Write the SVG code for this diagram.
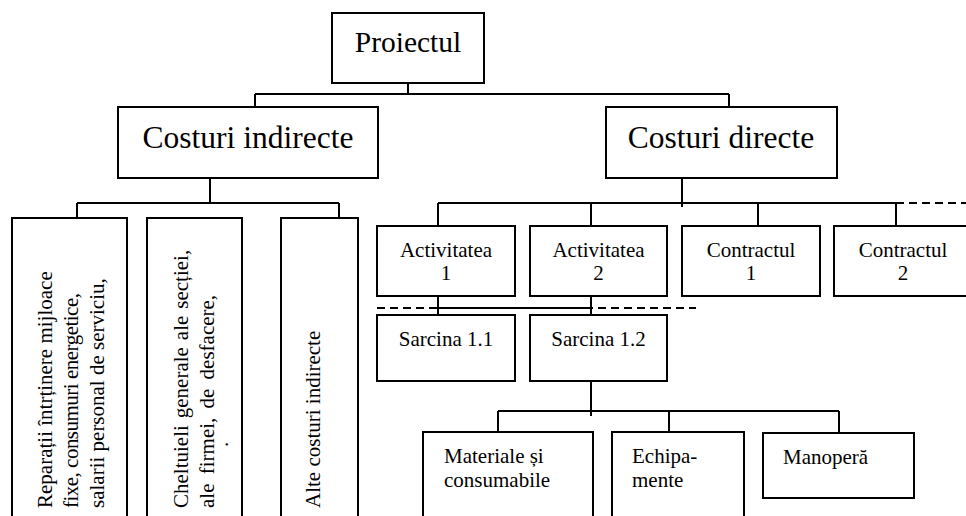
<svg xmlns="http://www.w3.org/2000/svg" width="966" height="516" viewBox="0 0 966 516" font-family="'Liberation Serif', 'Times New Roman', 'DejaVu Serif', serif">
<style>
.box{fill:#fff;stroke:#000;stroke-width:2}
.ln{stroke:#000;stroke-width:2;fill:none}
.dash{stroke:#000;stroke-width:2;fill:none;stroke-dasharray:8 5}
text{font-family:'Liberation Serif','Times New Roman','DejaVu Serif',serif;fill:#000}
.big{text-anchor:middle}
.mid{font-size:21px;text-anchor:middle}
.sm{font-size:21px}
</style>
<rect width="966" height="516" fill="#fff"/>
<g id="connectors">
<path class="ln" d="M408 76V94M255 94H729M255 94V112M729 94V112"/>
<path class="ln" d="M210 170V203M77 203H339M77 203V221M339 203V221"/>
<path class="ln" d="M682 170V207M438 203H896M438 203V226M591 203V226M758 203V226M896 203V226"/>
<path class="dash" d="M896 203H966"/>
<path class="dash" d="M377 308H696"/>
<path class="ln" d="M438 296V315M591 296V315M438 308H591"/>
<path class="ln" d="M591 372V416M498 411H839M498 411V432M669 411V432M839 411V432"/>
</g>
<g id="proiectul"><rect class="box" x="332" y="13" width="152" height="70"/><text class="big" x="408" y="52" font-size="29.5">Proiectul</text></g>
<g id="costuri-indirecte"><rect class="box" x="118" y="107" width="260" height="71"/><text class="big" x="248" y="148" font-size="31.5">Costuri indirecte</text></g>
<g id="costuri-directe"><rect class="box" x="606" y="107" width="231" height="71"/><text class="big" x="721" y="148" font-size="31.5">Costuri directe</text></g>
<g id="ind1"><rect class="box" x="12" y="218" width="115" height="320"/>
<text class="sm" transform="translate(52,508) rotate(-90)">Reparații întrținere mijloace</text>
<text class="sm" transform="translate(78,508) rotate(-90)" textLength="215" lengthAdjust="spacing">fixe, consumuri energetice,</text>
<text class="sm" transform="translate(104,508) rotate(-90)">salarii personal de serviciu,</text></g>
<g id="ind2"><rect class="box" x="147" y="218" width="95" height="320"/>
<text class="sm" transform="translate(188,508) rotate(-90)" word-spacing="1.7">Cheltuieli generale ale secției,</text>
<text class="sm" transform="translate(214,508) rotate(-90)" word-spacing="4">ale firmei, de desfacere,</text>
<text class="sm" transform="translate(228,447) rotate(-90)">.</text></g>
<g id="ind3"><rect class="box" x="281" y="218" width="77" height="320"/>
<text class="sm" transform="translate(320,508) rotate(-90)">Alte costuri indirecte</text></g>
<g id="act1"><rect class="box" x="377" y="226" width="138" height="70"/><text class="mid" x="446" y="257">Activitatea</text><text class="mid" x="446" y="280">1</text></g>
<g id="act2"><rect class="box" x="530" y="226" width="137" height="70"/><text class="mid" x="598.5" y="257">Activitatea</text><text class="mid" x="598.5" y="280">2</text></g>
<g id="contr1"><rect class="box" x="682" y="226" width="138" height="70"/><text class="mid" x="751" y="257">Contractul</text><text class="mid" x="751" y="280">1</text></g>
<g id="contr2"><rect class="box" x="834" y="226" width="138" height="70"/><text class="mid" x="903" y="257">Contractul</text><text class="mid" x="903" y="280">2</text></g>
<g id="sarc11"><rect class="box" x="377" y="315" width="138" height="66"/><text class="mid" x="446" y="346">Sarcina 1.1</text></g>
<g id="sarc12"><rect class="box" x="530" y="315" width="137" height="66"/><text class="mid" x="598.5" y="346">Sarcina 1.2</text></g>
<g id="materiale"><rect class="box" x="423" y="432" width="170" height="100"/><text class="sm" x="444" y="463">Materiale și</text><text class="sm" x="444" y="487">consumabile</text></g>
<g id="echipamente"><rect class="box" x="612" y="432" width="132" height="100"/><text class="sm" x="632" y="463">Echipa-</text><text class="sm" x="632" y="487">mente</text></g>
<g id="manopera"><rect class="box" x="763" y="433" width="151" height="65"/><text class="sm" x="783" y="464">Manoperă</text></g>
</svg>
